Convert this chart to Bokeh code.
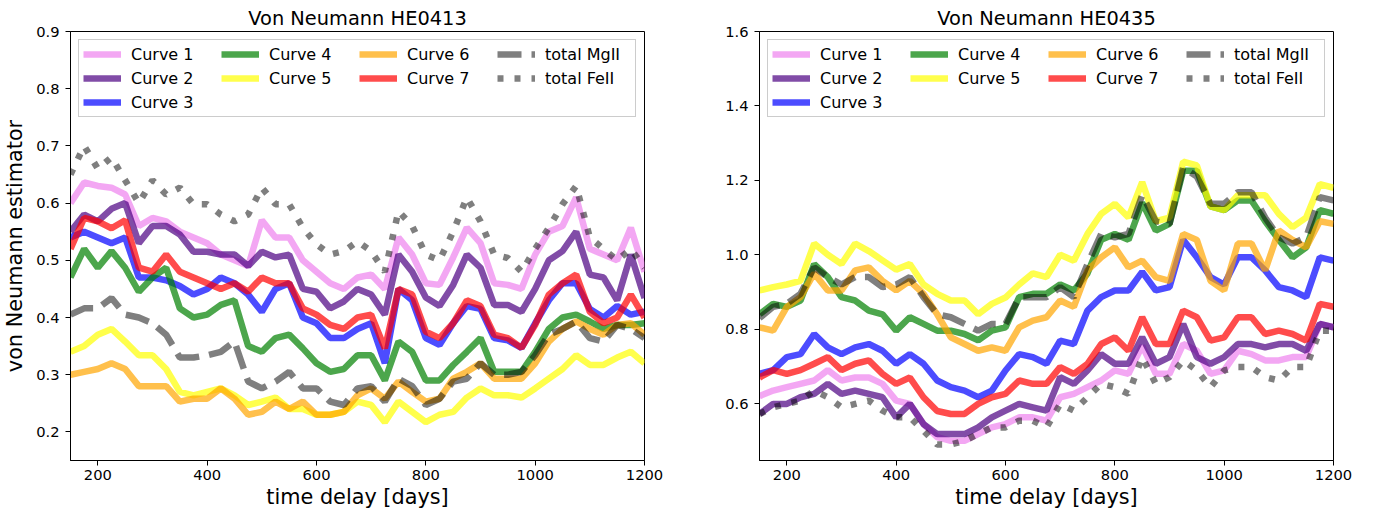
from bokeh.plotting import figure
from bokeh.models import Legend, LegendItem, FixedTicker, PrintfTickFormatter, Range1d, ColumnDataSource
from bokeh.layouts import row
from bokeh.embed import file_html
from bokeh.resources import INLINE

days = [150, 175, 200, 225, 250, 275, 300, 325, 350, 375, 400, 425, 450, 475, 500,
        525, 550, 575, 600, 625, 650, 675, 700, 725, 750, 775, 800, 825, 850, 875,
        900, 925, 950, 975, 1000, 1025, 1050, 1075, 1100, 1125, 1150, 1175, 1200]

labels = ["Curve 1", "Curve 2", "Curve 3", "Curve 4", "Curve 5", "Curve 6", "Curve 7",
          "total MgII", "total FeII"]
colors = ["violet", "indigo", "blue", "green", "yellow", "orange", "red", "black", "black"]

# ---- HE0413 ----
l_c1 = [0.60, 0.636, 0.63, 0.627, 0.615, 0.56, 0.574, 0.568, 0.55, 0.54, 0.53, 0.51, 0.50, 0.49, 0.57,
        0.54, 0.54, 0.50, 0.48, 0.46, 0.45, 0.47, 0.475, 0.45, 0.54, 0.51, 0.46, 0.457, 0.505, 0.557,
        0.53, 0.46, 0.457, 0.45, 0.51, 0.55, 0.56, 0.61, 0.52, 0.51, 0.50, 0.557, 0.48]
l_c2 = [0.55, 0.58, 0.568, 0.59, 0.60, 0.53, 0.56, 0.56, 0.545, 0.515, 0.515, 0.51, 0.51, 0.49, 0.515,
        0.505, 0.51, 0.45, 0.445, 0.416, 0.428, 0.45, 0.44, 0.405, 0.51, 0.48, 0.435, 0.42, 0.457, 0.51,
        0.487, 0.422, 0.422, 0.41, 0.45, 0.50, 0.516, 0.55, 0.475, 0.47, 0.43, 0.51, 0.434]
l_c3 = [0.54, 0.55, 0.54, 0.53, 0.54, 0.47, 0.47, 0.465, 0.455, 0.44, 0.45, 0.47, 0.46, 0.44, 0.41,
        0.45, 0.46, 0.40, 0.39, 0.364, 0.364, 0.38, 0.39, 0.32, 0.45, 0.43, 0.364, 0.352, 0.39, 0.42,
        0.415, 0.364, 0.36, 0.347, 0.39, 0.43, 0.46, 0.46, 0.415, 0.40, 0.42, 0.405, 0.41]
l_c4 = [0.47, 0.52, 0.487, 0.516, 0.487, 0.445, 0.47, 0.487, 0.416, 0.40, 0.405, 0.422, 0.43, 0.35, 0.34,
        0.364, 0.37, 0.346, 0.32, 0.305, 0.31, 0.334, 0.334, 0.29, 0.358, 0.34, 0.29, 0.29, 0.317, 0.34,
        0.364, 0.305, 0.305, 0.305, 0.34, 0.38, 0.40, 0.405, 0.393, 0.38, 0.387, 0.387, 0.39]
l_c5 = [0.34, 0.35, 0.37, 0.38, 0.358, 0.334, 0.334, 0.31, 0.27, 0.264, 0.27, 0.276, 0.264, 0.247, 0.253,
        0.26, 0.24, 0.24, 0.23, 0.23, 0.235, 0.253, 0.247, 0.217, 0.253, 0.235, 0.217, 0.23, 0.235, 0.26,
        0.276, 0.264, 0.264, 0.26, 0.276, 0.293, 0.31, 0.334, 0.317, 0.317, 0.33, 0.34, 0.32]
l_c6 = [0.30, 0.305, 0.31, 0.32, 0.31, 0.28, 0.28, 0.28, 0.253, 0.258, 0.258, 0.276, 0.258, 0.23, 0.235,
        0.253, 0.24, 0.253, 0.23, 0.23, 0.235, 0.264, 0.276, 0.258, 0.288, 0.27, 0.253, 0.258, 0.293, 0.305,
        0.32, 0.293, 0.293, 0.293, 0.32, 0.358, 0.38, 0.393, 0.38, 0.37, 0.387, 0.39, 0.37]
l_c7 = [0.52, 0.574, 0.568, 0.556, 0.57, 0.487, 0.48, 0.51, 0.48, 0.47, 0.46, 0.45, 0.46, 0.445, 0.47,
        0.46, 0.46, 0.416, 0.405, 0.387, 0.38, 0.40, 0.405, 0.346, 0.45, 0.44, 0.375, 0.364, 0.39, 0.43,
        0.42, 0.37, 0.364, 0.347, 0.387, 0.44, 0.46, 0.475, 0.41, 0.39, 0.40, 0.44, 0.40]
l_mg = [0.405, 0.416, 0.416, 0.434, 0.405, 0.40, 0.39, 0.37, 0.33, 0.33, 0.334, 0.34, 0.358, 0.288, 0.276,
        0.288, 0.305, 0.276, 0.276, 0.253, 0.247, 0.276, 0.28, 0.253, 0.293, 0.28, 0.247, 0.258, 0.288, 0.293,
        0.32, 0.30, 0.30, 0.305, 0.334, 0.37, 0.38, 0.393, 0.364, 0.358, 0.387, 0.38, 0.364]
l_fe = [0.65, 0.70, 0.66, 0.68, 0.64, 0.60, 0.64, 0.615, 0.627, 0.598, 0.598, 0.58, 0.568, 0.58, 0.627,
        0.598, 0.598, 0.557, 0.528, 0.51, 0.516, 0.533, 0.516, 0.48, 0.586, 0.56, 0.51, 0.50, 0.55, 0.61,
        0.568, 0.51, 0.504, 0.48, 0.52, 0.557, 0.598, 0.63, 0.54, 0.52, 0.50, 0.52, 0.487]

# ---- HE0435 ----
r_c1 = [0.62, 0.635, 0.644, 0.653, 0.662, 0.69, 0.662, 0.67, 0.67, 0.653, 0.608, 0.599, 0.545, 0.51, 0.50,
        0.50, 0.518, 0.536, 0.545, 0.563, 0.563, 0.554, 0.617, 0.626, 0.644, 0.662, 0.689, 0.68, 0.755, 0.68,
        0.68, 0.76, 0.742, 0.68, 0.689, 0.742, 0.733, 0.716, 0.716, 0.725, 0.725, 0.814, 0.805]
r_c2 = [0.572, 0.599, 0.599, 0.617, 0.626, 0.653, 0.626, 0.635, 0.626, 0.617, 0.563, 0.599, 0.545, 0.518, 0.518,
        0.518, 0.536, 0.563, 0.581, 0.599, 0.59, 0.581, 0.671, 0.653, 0.689, 0.733, 0.707, 0.707, 0.778, 0.707,
        0.725, 0.814, 0.725, 0.707, 0.725, 0.76, 0.76, 0.751, 0.76, 0.76, 0.742, 0.814, 0.805]
r_c3 = [0.68, 0.69, 0.725, 0.733, 0.787, 0.751, 0.733, 0.751, 0.76, 0.742, 0.707, 0.733, 0.707, 0.662, 0.644,
        0.635, 0.617, 0.635, 0.689, 0.733, 0.725, 0.707, 0.769, 0.76, 0.85, 0.886, 0.904, 0.904, 0.954, 0.904,
        0.913, 1.04, 0.993, 0.94, 0.92, 0.993, 0.993, 0.958, 0.913, 0.904, 0.886, 0.993, 0.984]
r_c4 = [0.84, 0.868, 0.86, 0.877, 0.975, 0.94, 0.886, 0.877, 0.85, 0.84, 0.796, 0.832, 0.814, 0.796, 0.796,
        0.787, 0.77, 0.796, 0.805, 0.886, 0.895, 0.895, 0.92, 0.904, 0.95, 1.04, 1.056, 1.04, 1.14, 1.065,
        1.083, 1.226, 1.226, 1.13, 1.12, 1.146, 1.146, 1.09, 1.04, 0.993, 1.02, 1.12, 1.11]
r_c5 = [0.904, 0.913, 0.92, 0.93, 1.03, 1.0, 0.975, 1.03, 1.01, 0.985, 0.96, 0.975, 0.92, 0.895, 0.877,
        0.877, 0.84, 0.868, 0.885, 0.92, 0.95, 0.94, 1.0, 0.984, 1.056, 1.11, 1.137, 1.10, 1.195, 1.09,
        1.10, 1.25, 1.24, 1.13, 1.12, 1.16, 1.16, 1.16, 1.11, 1.074, 1.10, 1.19, 1.18]
r_c6 = [0.805, 0.796, 0.86, 0.886, 0.95, 0.904, 0.904, 0.958, 0.966, 0.93, 0.904, 0.93, 0.895, 0.84, 0.778,
        0.76, 0.742, 0.751, 0.742, 0.805, 0.823, 0.832, 0.877, 0.86, 0.958, 0.993, 1.02, 0.966, 0.984, 0.94,
        0.93, 1.056, 1.04, 0.93, 0.904, 1.03, 1.03, 0.958, 1.065, 1.04, 1.02, 1.09, 1.083]
r_c7 = [0.67, 0.69, 0.68, 0.69, 0.707, 0.725, 0.69, 0.707, 0.716, 0.68, 0.653, 0.67, 0.617, 0.58, 0.572,
        0.572, 0.599, 0.617, 0.626, 0.662, 0.653, 0.653, 0.698, 0.68, 0.707, 0.76, 0.778, 0.742, 0.832, 0.76,
        0.76, 0.85, 0.832, 0.769, 0.778, 0.832, 0.832, 0.787, 0.796, 0.787, 0.769, 0.868, 0.86]
r_mg = [0.83, 0.86, 0.868, 0.895, 0.966, 0.94, 0.92, 0.94, 0.94, 0.913, 0.92, 0.94, 0.886, 0.84, 0.832,
        0.814, 0.796, 0.814, 0.814, 0.886, 0.886, 0.886, 0.913, 0.886, 0.975, 1.056, 1.047, 1.056, 1.16, 1.09,
        1.083, 1.235, 1.21, 1.137, 1.137, 1.168, 1.168, 1.10, 1.047, 1.03, 1.047, 1.155, 1.146]
r_fe = [0.572, 0.59, 0.599, 0.608, 0.635, 0.617, 0.59, 0.599, 0.608, 0.581, 0.563, 0.563, 0.527, 0.49, 0.49,
        0.50, 0.518, 0.536, 0.536, 0.554, 0.554, 0.536, 0.599, 0.581, 0.617, 0.653, 0.644, 0.626, 0.725, 0.653,
        0.671, 0.716, 0.689, 0.644, 0.689, 0.698, 0.698, 0.671, 0.662, 0.698, 0.698, 0.796, 0.796]

left_series = [l_c1, l_c2, l_c3, l_c4, l_c5, l_c6, l_c7, l_mg, l_fe]
right_series = [r_c1, r_c2, r_c3, r_c4, r_c5, r_c6, r_c7, r_mg, r_fe]

FONT = "DejaVu Sans"


def make_panel(title, series, y0, y1, yticks, ylabel, bl, br, fw):
    p = figure(title=title, frame_width=fw, frame_height=429,
               min_border_left=bl, min_border_right=br, min_border_top=31, min_border_bottom=55,
               x_range=Range1d(150, 1200), y_range=Range1d(y0, y1),
               output_backend="svg", toolbar_location=None)
    p.title.align = "center"
    p.title.text_font = FONT
    p.title.text_font_size = "19.4px"
    p.title.text_font_style = "normal"
    p.title.text_color = "black"
    p.title.standoff = 4

    renderers = []
    for lab, col, ys in zip(labels, colors, series):
        src = ColumnDataSource(dict(x=days, y=ys))
        if lab == "total MgII":
            r = p.line("x", "y", source=src, line_color=col, line_alpha=0.5, line_width=6.5,
                       line_dash="24 10")
        elif lab == "total FeII":
            r = p.line("x", "y", source=src, line_color=col, line_alpha=0.5, line_width=6.5,
                       line_dash="6 11")
        else:
            r = p.line("x", "y", source=src, line_color=col, line_alpha=0.7, line_width=6.5)
        renderers.append(r)

    order = [0, 3, 5, 7, 1, 4, 6, 8, 2]
    items = [LegendItem(label=labels[k], renderers=[renderers[k]]) for k in order]
    leg = Legend(items=items, location="top_left", orientation="horizontal", ncols=4,
                 margin=8, padding=4, spacing=4, glyph_width=38, glyph_height=20,
                 label_height=20, label_width=86, label_standoff=10,
                 label_text_font=FONT, label_text_font_size="16px", label_text_color="black",
                 border_line_color="#cccccc", border_line_width=1, border_line_alpha=1,
                 background_fill_alpha=0.8)
    p.add_layout(leg, "center")

    p.xaxis.ticker = FixedTicker(ticks=[200, 400, 600, 800, 1000, 1200])
    p.yaxis.ticker = FixedTicker(ticks=yticks)
    p.yaxis.formatter = PrintfTickFormatter(format="%.1f")
    p.xaxis.axis_label = "time delay [days]"
    if ylabel:
        p.yaxis.axis_label = ylabel
    for ax in (p.xaxis, p.yaxis):
        ax.axis_label_text_font = FONT
        ax.axis_label_text_font_size = "20.8px"
        ax.axis_label_text_font_style = "normal"
        ax.axis_label_text_color = "black"
        ax.major_label_text_font = FONT
        ax.major_label_text_font_size = "14.7px"
        ax.major_label_text_color = "black"
        ax.axis_line_color = "black"
        ax.major_tick_line_color = "black"
        ax.major_tick_out = 5
        ax.major_tick_in = 0
        ax.minor_tick_line_color = None
    p.xaxis.major_label_standoff = 4
    p.xaxis.axis_label_standoff = 2
    p.yaxis.major_label_standoff = 6
    p.yaxis.axis_label_standoff = 6
    p.xgrid.visible = False
    p.ygrid.visible = False
    p.outline_line_color = "black"
    p.outline_line_alpha = 1
    p.outline_line_width = 1
    return p


p1 = make_panel("Von Neumann HE0413", left_series, 0.15, 0.9,
                [0.2, 0.3, 0.4, 0.5, 0.6, 0.7, 0.8, 0.9], "von Neumann estimator", 70, 45, 574)
p2 = make_panel("Von Neumann HE0435", right_series, 0.447, 1.6,
                [0.6, 0.8, 1.0, 1.2, 1.4, 1.6], None, 70, 43, 574)

layout = row(p1, p2)
open("out.html", "w").write(file_html(layout, INLINE))
